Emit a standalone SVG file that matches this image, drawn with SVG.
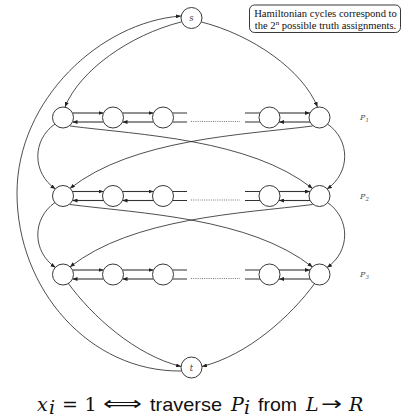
<svg xmlns="http://www.w3.org/2000/svg" width="404" height="418" viewBox="0 0 404 418">
<defs>
<marker id="ah" viewBox="0 0 5 4" refX="5" refY="2" markerWidth="5" markerHeight="4" markerUnits="userSpaceOnUse" orient="auto">
<path d="M0,0 L5,2 L0,4 z" fill="#222"/>
</marker>
<style>
.n{fill:#fff;stroke:#222;stroke-width:0.9}
.e{fill:none;stroke:#222;stroke-width:0.8;marker-end:url(#ah)}
.h{fill:none;stroke:#333;stroke-width:1.1;marker-end:url(#ah)}
.p{fill:none;stroke:#333;stroke-width:1.1}
.dot{fill:none;stroke:#555;stroke-width:0.8;stroke-dasharray:1 1.2}
.lbl{font-family:"DejaVu Serif",serif;font-style:italic;font-size:8.5px;fill:#444;text-anchor:middle}
.pl{font-family:"DejaVu Serif",serif;font-style:italic;font-size:8px;fill:#555}
.box{font-family:"Liberation Serif","Times New Roman",serif;font-size:10.6px;fill:#111;text-anchor:middle}
.mi{font-family:"DejaVu Serif",serif;font-style:italic;font-size:19px;fill:#111}
.rm{font-family:"DejaVu Serif",serif;font-size:19px;fill:#111}
.sf{font-family:"Liberation Sans",Arial,sans-serif;font-size:19px;fill:#111}
.sy{font-family:"DejaVu Sans",sans-serif;font-size:19px;fill:#111}
</style>
</defs>

<g id="connectors">
<path class="e" d="M181,22 C130,35 80,70 65,107"/>
<path class="e" d="M201.5,22 C252.5,35 302.5,70 317.5,107"/>
<path class="e" d="M55,124 C32,140 32,173 55.5,189"/>
<path class="e" d="M327.5,124 C350.5,140 350.5,173 327,189"/>
<path class="e" d="M70,126 C140,135 250,139 312.5,188.5"/>
<path class="e" d="M312.5,126 C242.5,135 132.5,139 70,188.5"/>
<path class="e" d="M55,202.5 C32,218.5 32,251.5 55.5,267.5"/>
<path class="e" d="M327.5,202.5 C350.5,218.5 350.5,251.5 327,267.5"/>
<path class="e" d="M70,204.5 C140,213.5 250,217.5 312.5,267"/>
<path class="e" d="M312.5,204.5 C242.5,213.5 132.5,217.5 70,267"/>
<path class="e" d="M68,283 C92,316 135,355 181,366.5"/>
<path class="e" d="M315,283 C291,316 248,355 202,366.5"/>
<path class="e" d="M181,371 C90,372 17,290 17,193 C17,100 100,22 181,16"/>

<path class="h" d="M72.5,113 H103.5"/><path class="h" d="M103.5,122 H72.5"/>
<path class="h" d="M122.5,113 H153.5"/><path class="h" d="M153.5,122 H122.5"/>
<path class="h" d="M279,113 H310"/><path class="h" d="M310,122 H279"/>
<path class="p" d="M172.5,113 H187 M172.5,122 H187 M245,113 H260 M245,122 H260"/>
<path class="dot" d="M191,121.5 H240"/>
<path class="h" d="M72.5,191.5 H103.5"/><path class="h" d="M103.5,200.5 H72.5"/>
<path class="h" d="M122.5,191.5 H153.5"/><path class="h" d="M153.5,200.5 H122.5"/>
<path class="h" d="M279,191.5 H310"/><path class="h" d="M310,200.5 H279"/>
<path class="p" d="M172.5,191.5 H187 M172.5,200.5 H187 M245,191.5 H260 M245,200.5 H260"/>
<path class="dot" d="M191,200 H240"/>
<path class="h" d="M72.5,270 H103.5"/><path class="h" d="M103.5,279 H72.5"/>
<path class="h" d="M122.5,270 H153.5"/><path class="h" d="M153.5,279 H122.5"/>
<path class="h" d="M279,270 H310"/><path class="h" d="M310,279 H279"/>
<path class="p" d="M172.5,270 H187 M172.5,279 H187 M245,270 H260 M245,279 H260"/>
<path class="dot" d="M191,278.5 H240"/>
</g>

<g id="s"><circle class="n" cx="191.5" cy="18" r="10.5"/><text class="lbl" x="191.5" y="21">s</text></g>
<g id="t"><circle class="n" cx="191.5" cy="367.5" r="10.5"/><text class="lbl" x="191.5" y="370.5">t</text></g>

<g id="row1">
<circle class="n" cx="63" cy="117.5" r="10.5"/>
<circle class="n" cx="113" cy="117.5" r="10.5"/>
<circle class="n" cx="163" cy="117.5" r="10.5"/>
<circle class="n" cx="269.5" cy="117.5" r="10.5"/>
<circle class="n" cx="319.5" cy="117.5" r="10.5"/>
</g>
<g id="row2">
<circle class="n" cx="63" cy="196" r="10.5"/>
<circle class="n" cx="113" cy="196" r="10.5"/>
<circle class="n" cx="163" cy="196" r="10.5"/>
<circle class="n" cx="269.5" cy="196" r="10.5"/>
<circle class="n" cx="319.5" cy="196" r="10.5"/>
</g>
<g id="row3">
<circle class="n" cx="63" cy="274.5" r="10.5"/>
<circle class="n" cx="113" cy="274.5" r="10.5"/>
<circle class="n" cx="163" cy="274.5" r="10.5"/>
<circle class="n" cx="269.5" cy="274.5" r="10.5"/>
<circle class="n" cx="319.5" cy="274.5" r="10.5"/>
</g>

<g id="labels">
<text class="pl" x="360" y="120">P<tspan font-size="5.5" dy="2">1</tspan></text>
<text class="pl" x="360" y="199">P<tspan font-size="5.5" dy="2">2</tspan></text>
<text class="pl" x="360" y="277">P<tspan font-size="5.5" dy="2">3</tspan></text>
</g>

<g id="note">
<rect x="249.5" y="5" width="151" height="27.5" rx="5" fill="#fff" stroke="#222" stroke-width="0.9"/>
<text class="box" x="325.5" y="17">Hamiltonian cycles correspond to</text>
<text class="box" x="325.5" y="28.5">the 2<tspan font-size="7" dy="-3.5">n</tspan><tspan dy="3.5"> possible truth assignments.</tspan></text>
</g>

<g id="caption">
<text class="mi" x="37" y="411">x</text>
<text class="mi" x="49" y="414" font-size="13">i</text>
<text class="rm" x="62" y="411">=</text>
<text class="rm" x="84.5" y="411">1</text>
<text class="sy" x="103" y="410" textLength="39" lengthAdjust="spacingAndGlyphs">⟺</text>
<text class="sf" x="150" y="411" textLength="72" lengthAdjust="spacingAndGlyphs">traverse</text>
<text class="mi" x="231" y="411">P</text>
<text class="mi" x="244" y="414" font-size="13">i</text>
<text class="sf" x="258" y="411" textLength="39" lengthAdjust="spacingAndGlyphs">from</text>
<text class="mi" x="306" y="411">L</text>
<text class="sy" x="321" y="410" textLength="21" lengthAdjust="spacingAndGlyphs">→</text>
<text class="mi" x="349" y="411">R</text>
</g>
</svg>
